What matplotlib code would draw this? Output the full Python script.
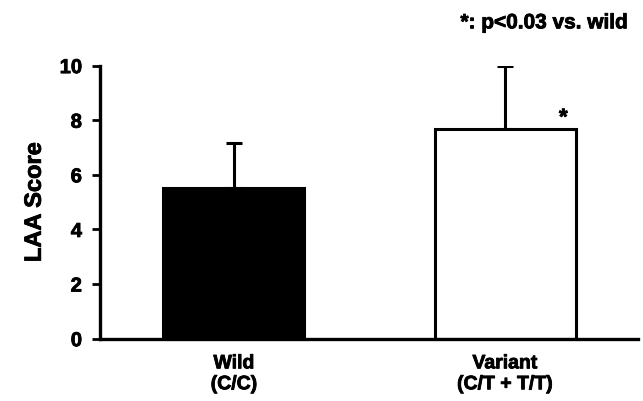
import numpy as np
import matplotlib.pyplot as plt
import matplotlib.patheffects as pe

plt.rcParams['font.family'] = ['Liberation Sans', 'DejaVu Sans']
plt.rcParams['font.weight'] = 'bold'

# data
groups = ['Wild\n(C/C)', 'Variant\n(C/T + T/T)']
means = [5.52, 7.68]
sd_upper = [1.65, 2.29]
colors = ['black', 'white']

heavy = [pe.withStroke(linewidth=0.6, foreground='black')]

fig = plt.figure(figsize=(6.43, 4.01), dpi=100)
ax = fig.add_axes([0.1555, 0.1554, 0.8365, 0.681])

x = np.arange(len(groups))
ax.bar(x, means, width=0.52, color=colors, edgecolor='black', linewidth=2.2, zorder=2)
ax.errorbar(x, means, yerr=[np.zeros(len(means)), sd_upper], fmt='none',
            ecolor='black', elinewidth=2.2, capsize=6, capthick=2.2, zorder=1)

# significance mark
ax.text(x[1] + 0.215, means[1] + 0.0, '*', ha='center', va='bottom', fontsize=16,
        fontweight='bold', path_effects=heavy)
fig.text(0.977, 0.943, '*: p<0.03 vs. wild', ha='right', va='center', fontsize=15,
         fontweight='bold', path_effects=heavy)

ax.set_xlim(-0.494, 1.49)
ax.set_ylim(0, 10)
ax.set_yticks([0, 2, 4, 6, 8, 10])
ax.set_xticks(x)
ax.set_xticklabels(groups, fontsize=14, fontweight='bold', linespacing=1.3)
ax.tick_params(axis='x', length=0, pad=12)
ax.tick_params(axis='y', length=6, width=2, labelsize=14.5, pad=7)
for lab in ax.get_yticklabels() + ax.get_xticklabels():
    lab.set_fontweight('bold')
    lab.set_path_effects(heavy)
ax.set_ylabel('LAA Score', fontsize=17, fontweight='bold', labelpad=10, path_effects=heavy)

ax.spines['top'].set_visible(False)
ax.spines['right'].set_visible(False)
ax.spines['left'].set_linewidth(2.4)
ax.spines['bottom'].set_linewidth(2.4)

fig.savefig('out.png', dpi=100)
